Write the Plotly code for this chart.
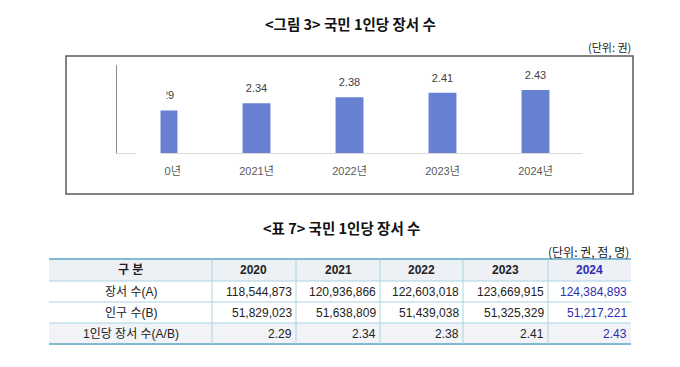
import plotly.graph_objects as go

# page body has an 8px margin; the figure is sized/offset to match the 680x367 window
OFF = 8
W, H = 680 - OFF, 367 - OFF

# ---- data ----
years = ["2020", "2021", "2022", "2023", "2024"]
year_labels = ["2020년", "2021년", "2022년", "2023년", "2024년"]
per_capita = [2.29, 2.34, 2.38, 2.41, 2.43]
books = ["118,544,873", "120,936,866", "122,603,018", "123,669,915", "124,384,893"]
population = ["51,829,023", "51,638,809", "51,439,038", "51,325,329", "51,217,221"]
per_capita_txt = ["2.29", "2.34", "2.38", "2.41", "2.43"]
row_labels = ["장서 수(A)", "인구 수(B)", "1인당 장서 수(A/B)"]
header_first = "구 분"

FONT = "Liberation Sans, Arial, Noto Sans CJK KR, sans-serif"
KFONT = "Noto Sans CJK KR, sans-serif"

# table geometry (pixels in the 680x367 window)
col_edges = [49, 212, 296, 380, 463, 548, 631]
row_edges = [259, 281, 302, 323, 344]


def px(x):
    return (x - OFF) / W


def py(y):
    return 1 - (y - OFF) / H


fig = go.Figure()

# ---- bar chart ----
fig.add_trace(go.Bar(
    x=year_labels, y=per_capita, width=0.3,
    marker=dict(color="#6780D2", line=dict(width=0)),
    hoverinfo="skip",
))
# data labels above the bars
fig.add_trace(go.Scatter(
    x=year_labels, y=per_capita, mode="markers+text",
    text=[f"{v:.2f}" for v in per_capita], textposition="top center",
    marker=dict(size=12, opacity=0),
    textfont=dict(family=FONT, size=11, color="#404040"),
    hoverinfo="skip", cliponaxis=False,
))

annotations = []
shapes = []
# chart frame
shapes.append(dict(type="rect", xref="paper", yref="paper",
                   x0=px(66), x1=px(633), y0=py(194), y1=py(56),
                   line=dict(color="#595959", width=1.5)))
# obscured region of the original figure
shapes.append(dict(type="rect", xref="paper", yref="paper", layer="above",
                   x0=px(136), x1=px(160.5), y0=py(156), y1=py(100),
                   line=dict(width=0), fillcolor="white"))
shapes.append(dict(type="rect", xref="paper", yref="paper", layer="above",
                   x0=px(136), x1=px(166.5), y0=py(104), y1=py(84),
                   line=dict(width=0), fillcolor="white"))
shapes.append(dict(type="rect", xref="paper", yref="paper", layer="above",
                   x0=px(136), x1=px(164), y0=py(184), y1=py(160),
                   line=dict(width=0), fillcolor="white"))

# ---- table ----
tx0, tx1 = px(col_edges[0]), px(col_edges[-1])
shapes.append(dict(type="rect", xref="paper", yref="paper", layer="below",
                   x0=tx0, x1=tx1, y0=py(row_edges[1]), y1=py(row_edges[0]),
                   line=dict(width=0), fillcolor="#EDF0F5"))
shapes.append(dict(type="rect", xref="paper", yref="paper", layer="below",
                   x0=tx0, x1=tx1, y0=py(row_edges[4]), y1=py(row_edges[3]),
                   line=dict(width=0), fillcolor="#F1F3F7"))
for i, yy in enumerate(row_edges):
    outer = i in (0, len(row_edges) - 1)
    shapes.append(dict(type="line", xref="paper", yref="paper",
                       x0=tx0, x1=tx1, y0=py(yy), y1=py(yy),
                       line=dict(color="#7FBCD3" if outer else "#A9D4E2",
                                 width=2 if outer else 1)))
for xx in col_edges[1:-1]:
    shapes.append(dict(type="line", xref="paper", yref="paper",
                       x0=px(xx), x1=px(xx), y0=py(row_edges[-1]), y1=py(row_edges[0]),
                       line=dict(color="#A9D4E2", width=1)))

col_colors = ["#222222"] * 5 + ["#2E2EB0"]
header_vals = [header_first] + years
columns = [row_labels] + [[b, p, c] for b, p, c in zip(books, population, per_capita_txt)]

# header cells
for j, h in enumerate(header_vals):
    cx = (col_edges[j] + col_edges[j + 1]) / 2
    cy = (row_edges[0] + row_edges[1]) / 2
    annotations.append(dict(
        x=px(cx), y=py(cy), xref="paper", yref="paper", showarrow=False,
        text=f"<b>{h}</b>", xanchor="center", yanchor="middle",
        font=dict(family=FONT, size=12, color=col_colors[j])))
# body cells
for j, col in enumerate(columns):
    for i, val in enumerate(col):
        cy = (row_edges[i + 1] + row_edges[i + 2]) / 2
        if j == 0:
            x, anchor = (col_edges[0] + col_edges[1]) / 2, "center"
        else:
            x, anchor = col_edges[j + 1] - 2, "right"
        annotations.append(dict(
            x=px(x), y=py(cy), xref="paper", yref="paper", showarrow=False,
            text=val, xanchor=anchor, yanchor="middle",
            font=dict(family=FONT, size=12, color=col_colors[j])))

# titles
annotations += [
    dict(x=px(350), y=py(24), xref="paper", yref="paper", showarrow=False,
         text="<b>&lt;그림 3&gt; 국민 1인당 장서 수</b>", xanchor="center", yanchor="middle",
         font=dict(family=KFONT, size=14.5, color="#111111")),
    dict(x=px(633), y=py(47), xref="paper", yref="paper", showarrow=False,
         text="(단위: 권)", xanchor="right", yanchor="middle",
         font=dict(family=KFONT, size=11, color="#222222")),
    dict(x=px(341), y=py(227), xref="paper", yref="paper", showarrow=False,
         text="<b>&lt;표 7&gt; 국민 1인당 장서 수</b>", xanchor="center", yanchor="middle",
         font=dict(family=KFONT, size=14.5, color="#111111")),
    dict(x=px(631), y=py(251), xref="paper", yref="paper", showarrow=False,
         text="(단위: 권, 점, 명)", xanchor="right", yanchor="middle",
         font=dict(family=KFONT, size=12, color="#222222")),
]

fig.update_layout(
    width=W, height=H, margin=dict(l=0, r=0, t=0, b=0),
    paper_bgcolor="white", plot_bgcolor="white", showlegend=False,
    xaxis=dict(domain=[px(117), px(582)], type="category",
               showline=True, linecolor="#D9D9D9", linewidth=1,
               ticks="", showgrid=False, ticklabelstandoff=8,
               tickfont=dict(family=FONT, size=11, color="#595959")),
    yaxis=dict(domain=[py(153), py(65)], range=[2.0, 2.6],
               showline=True, linecolor="#8C8C8C", linewidth=1,
               showticklabels=False, ticks="", showgrid=False, zeroline=False),
    shapes=shapes, annotations=annotations,
)

fig.write_html("out.html")
